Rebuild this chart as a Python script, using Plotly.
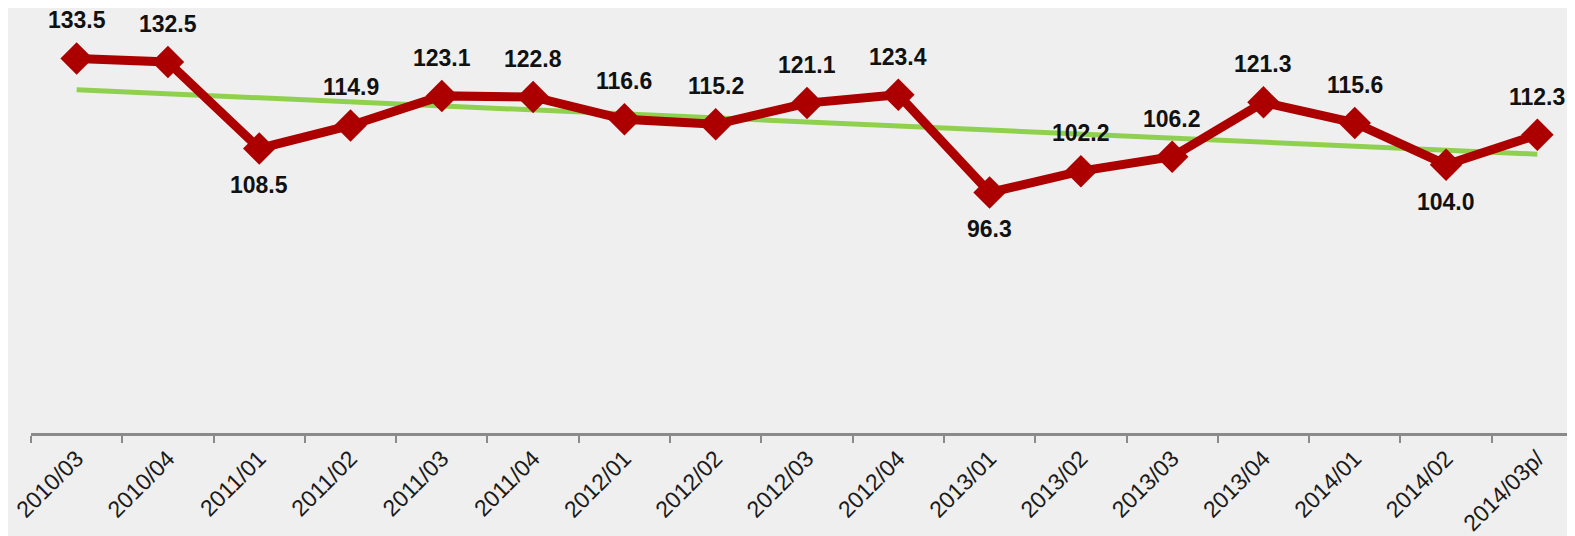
import numpy as np
import plotly.graph_objects as go

categories = ["2010/03", "2010/04", "2011/01", "2011/02", "2011/03", "2011/04",
              "2012/01", "2012/02", "2012/03", "2012/04", "2013/01", "2013/02",
              "2013/03", "2013/04", "2014/01", "2014/02", "2014/03p/"]
values = [133.5, 132.5, 108.5, 114.9, 123.1, 122.8, 116.6, 115.2, 121.1, 123.4,
          96.3, 102.2, 106.2, 121.3, 115.6, 104.0, 112.3]
label_below = ["2011/01", "2013/01", "2014/02"]

idx = np.arange(len(values))
slope, intercept = np.polyfit(idx, values, 1)
trend = [float(intercept + slope * i) for i in idx]

fig = go.Figure()
fig.add_trace(go.Scatter(
    x=categories, y=trend, mode="lines",
    line=dict(color="#8fd14f", width=5), hoverinfo="skip", showlegend=False))
fig.add_trace(go.Scatter(
    x=categories, y=values, mode="lines+markers",
    line=dict(color="#ac0000", width=9),
    marker=dict(symbol="diamond", size=25, color="#ac0000"),
    showlegend=False))

for c, v in zip(categories, values):
    below = c in label_below
    fig.add_annotation(x=c, y=v, text=f"{v:.1f}", showarrow=False,
                       yshift=-37 if below else 38,
                       font=dict(family="Liberation Sans, Arial", size=23, color="#111111", weight="bold"))

fig.update_layout(
    width=1575, height=536,
    margin=dict(l=23, r=0, t=0, b=111),
    paper_bgcolor="#efefef", plot_bgcolor="#efefef",
    font=dict(family="Liberation Sans, Arial", color="#1a1a1a"),
)
fig.update_xaxes(
    type="category", range=[-0.5, 16.5], tickson="boundaries",
    ticks="outside", ticklen=7, tickwidth=2, tickcolor="#8a8a8a",
    showline=True, linecolor="#8a8a8a", linewidth=3,
    showgrid=False, zeroline=False, tickangle=-45,
    tickfont=dict(size=23, color="#1a1a1a"),
)
fig.update_yaxes(range=[29.5, 147.5], visible=False, showgrid=False, zeroline=False)

fig.write_html("out.html")
